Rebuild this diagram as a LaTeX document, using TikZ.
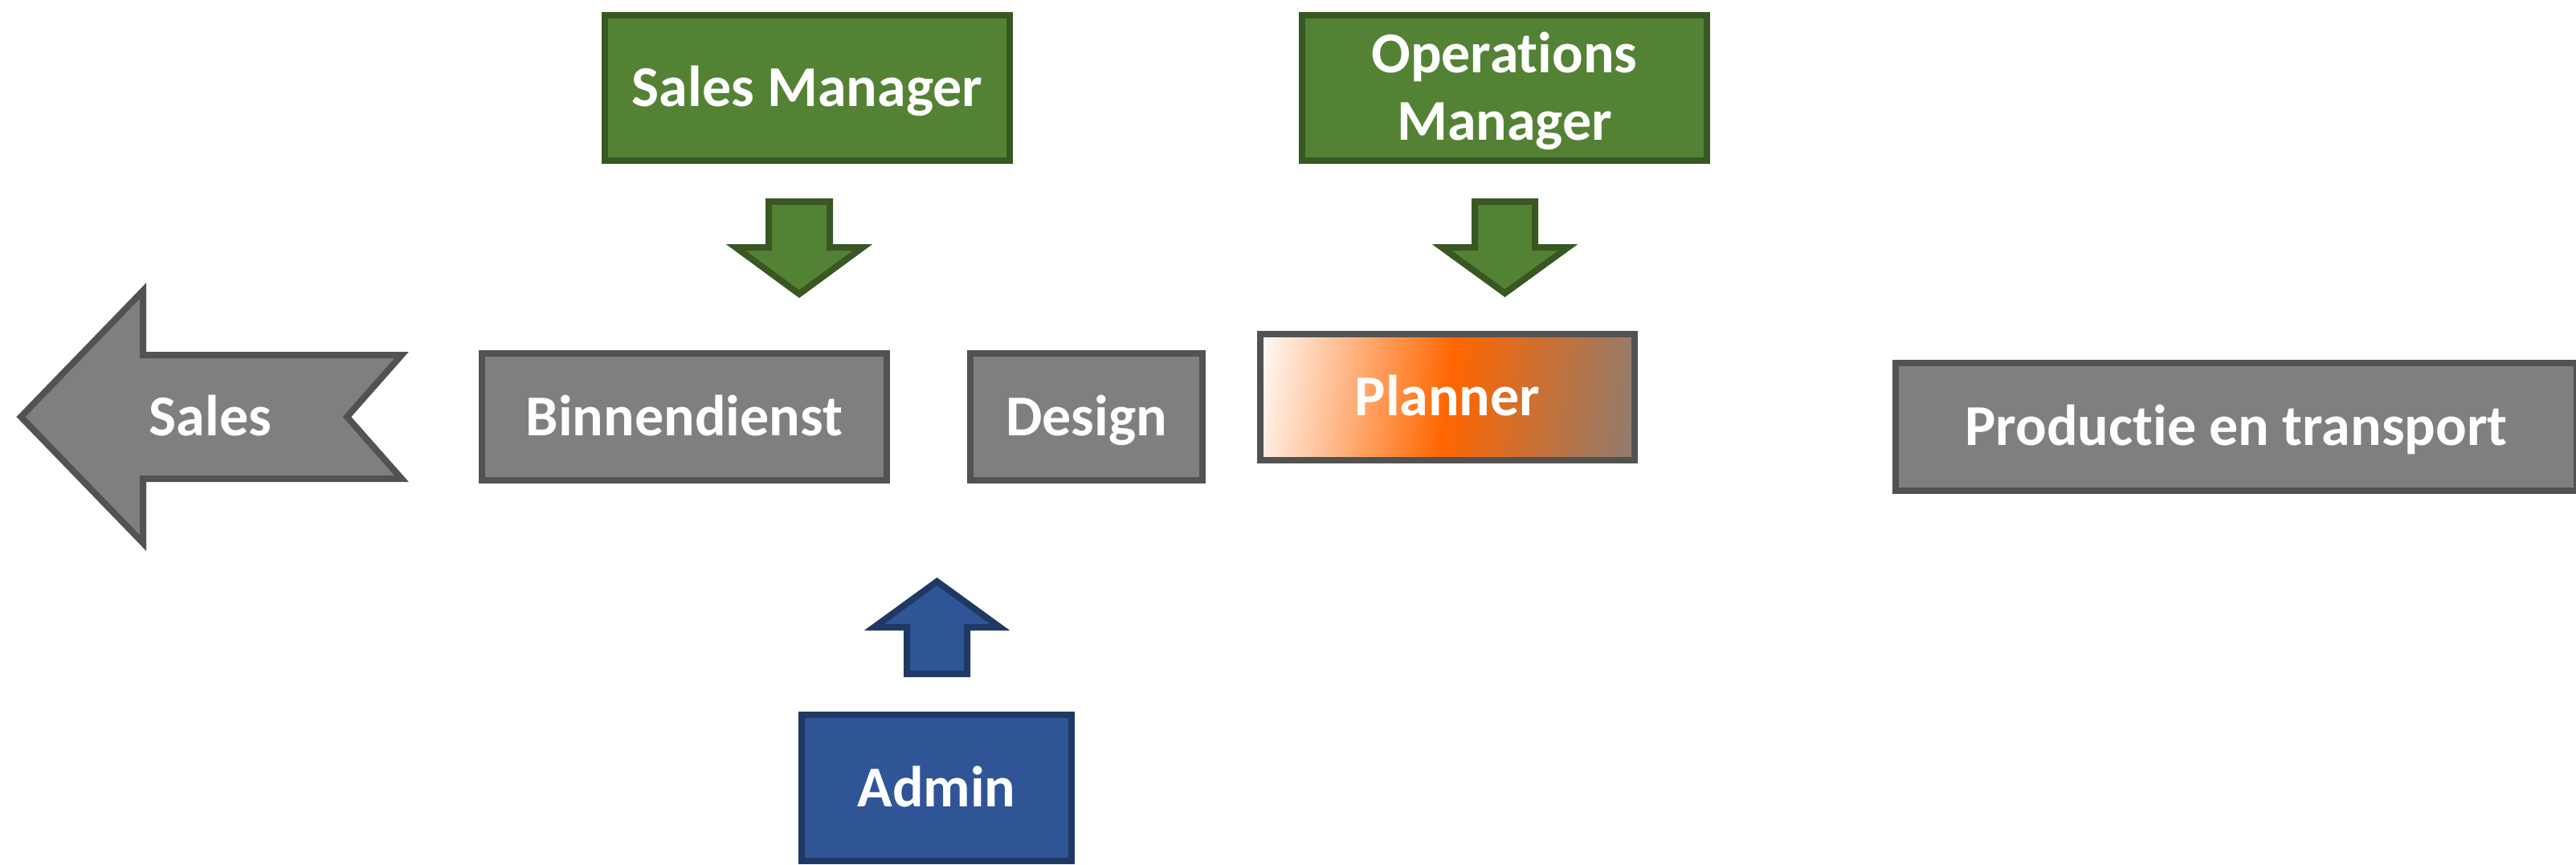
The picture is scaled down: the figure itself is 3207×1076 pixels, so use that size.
\documentclass[tikz,border=0pt]{standalone}
\usepackage{fontspec}
\setmainfont{Carlito}[Ligatures=NoCommon]
\usepackage{tikz}

\definecolor{boxgrey}{HTML}{7F7F7F}
\definecolor{boxgreyline}{HTML}{525252}
\definecolor{mgrgreen}{HTML}{548235}
\definecolor{mgrgreenline}{HTML}{385723}
\definecolor{adminblue}{HTML}{2F5597}
\definecolor{adminblueline}{HTML}{203864}
\definecolor{plannerorange}{HTML}{FF6600}

\pgfdeclarehorizontalshading{plannershade}{100bp}{color(0bp)=(white); color(21bp)=(white); color(50bp)=(plannerorange); color(82bp)=(boxgrey); color(100bp)=(boxgrey)}

\tikzset{
  lbl/.style={font=\bfseries\fontsize{18}{21}\selectfont, text=white, align=center, inner sep=0pt, text height=11.6pt, text depth=0pt},
  unit/.style={lbl, rectangle, line width=2pt, draw=boxgreyline, fill=boxgrey},
  mgr/.style={lbl, rectangle, line width=2pt, draw=mgrgreenline, fill=mgrgreen},
  greenarrow/.style={line width=2pt, draw=mgrgreenline, fill=mgrgreen},
  bluearrow/.style={line width=2pt, draw=adminblueline, fill=adminblue}
}

\begin{document}
\begin{tikzpicture}[x=0.25pt,y=0.25pt,yscale=-1,xscale=1]
\useasboundingbox (0,0) rectangle (3207,1076);

%Shape: Notched Left Arrow [Sales]
\draw  [line width=2pt, draw=boxgreyline, fill=boxgrey]  (26,519) -- (178,362) -- (178,442) -- (500,442) -- (432,519) -- (500,596) -- (178,596) -- (178,676) -- cycle ;
% Text Node
\node (sales) [lbl] at (262,519) {Sales};

% Managers
\node (salesmgr) [mgr, minimum width=126pt, minimum height=45.25pt] at (1005,109.5) {Sales Manager};
\node (opsmgr) [mgr, text height=32.6pt, minimum width=126pt, minimum height=45.25pt] at (1873,109.5) {Operations\\Manager};

%Shape: Down Arrow [Sales Manager]
\draw  [greenarrow]  (957,251) -- (1033,251) -- (1033,308) -- (1074,308) -- (995,366) -- (916,308) -- (957,308) -- cycle ;
%Shape: Down Arrow [Operations Manager]
\draw  [greenarrow]  (1836,251) -- (1911,251) -- (1911,308) -- (1952,308) -- (1873.5,365) -- (1795,308) -- (1836,308) -- cycle ;

% Departments
\node (binnen) [unit, minimum width=126pt, minimum height=39.5pt] at (852,519) {Binnendienst};
\node (design) [unit, minimum width=72.25pt, minimum height=39.5pt] at (1352.5,519) {Design};
\node (planner) [unit, shade, shading=plannershade, shading angle=-8, minimum width=116.5pt, minimum height=39.25pt] at (1802,494.5) {Planner};
\node (productie) [unit, minimum width=212pt, minimum height=39.75pt] at (2784,531.5) {Productie en transport};

%Shape: Up Arrow [Admin]
\draw  [bluearrow]  (1129,839) -- (1129,781) -- (1088,781) -- (1166.5,724) -- (1245,781) -- (1204,781) -- (1204,839) -- cycle ;

\node (admin) [lbl, rectangle, line width=2pt, draw=adminblueline, fill=adminblue, minimum width=84pt, minimum height=45.5pt] at (1166,981) {Admin};

\end{tikzpicture}
\end{document}
